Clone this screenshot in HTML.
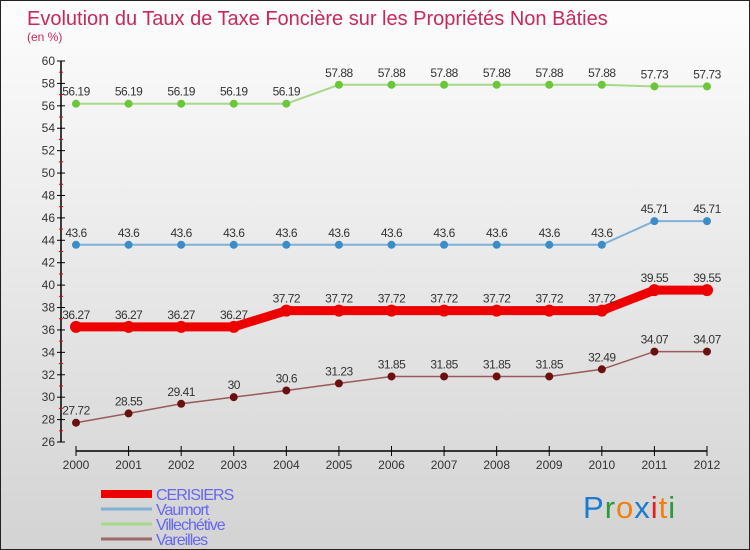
<!DOCTYPE html>
<html><head><meta charset="utf-8"><style>
body{margin:0;}
#wrap{width:750px;height:550px;position:relative;box-sizing:border-box;border:1px solid #222;background:linear-gradient(#fdfdfd,#d3d3d3);font-family:"Liberation Sans",sans-serif;overflow:hidden}
</style></head><body>
<div id="wrap">
<svg id="svg" width="750" height="550" style="position:absolute;left:0;top:0">
<text x="26" y="24" font-size="20" fill="#c8285a">Evolution du Taux de Taxe Foncière sur les Propriétés Non Bâties</text>
<text x="26" y="40" font-size="12" fill="#c8285a">(en %)</text>
</svg>
</div>
<script>
const years=["2000","2001","2002","2003","2004","2005","2006","2007","2008","2009","2010","2011","2012"];
const cerisiers=[36.27,36.27,36.27,36.27,37.72,37.72,37.72,37.72,37.72,37.72,37.72,39.55,39.55];
const vaumort=[43.6,43.6,43.6,43.6,43.6,43.6,43.6,43.6,43.6,43.6,43.6,45.71,45.71];
const villechetive=[56.19,56.19,56.19,56.19,56.19,57.88,57.88,57.88,57.88,57.88,57.88,57.73,57.73];
const vareilles=[27.72,28.55,29.41,30,30.6,31.23,31.85,31.85,31.85,31.85,32.49,34.07,34.07];
const yTicks=[26,28,30,32,34,36,38,40,42,44,46,48,50,52,54,56,58,60];
const seriesNames=["CERISIERS","Vaumort","Villechétive","Vareilles"];

const svg=document.getElementById('svg');const NS='http://www.w3.org/2000/svg';
function el(t,a,p){const e=document.createElementNS(NS,t);for(const k in a)e.setAttribute(k,a[k]);(p||svg).appendChild(e);return e;}
const x=i=>75+i*(706-75)/(years.length-1);
const y=v=>441-(v-26)*(441-60)/34;
let ax=el('line',{x1:60,y1:60,x2:60,y2:441,stroke:'#000','stroke-width':1.5});


let xa=el('line',{x1:75,y1:450,x2:706,y2:450,stroke:'#000','stroke-width':1.5});


yTicks.forEach((v,i)=>{
  el('line',{x1:56,x2:64,y1:y(v),y2:y(v),stroke:'#000'});
  if(i<yTicks.length-1)el('line',{x1:58,x2:62,y1:y(v+1),y2:y(v+1),stroke:'#e00'});
  const t=el('text',{x:54,y:y(v)+4,'font-size':12,'text-anchor':'end',fill:'#333'});t.textContent=v;
  
  
});
years.forEach((yr,i)=>{
  el('line',{x1:x(i),x2:x(i),y1:445,y2:455,stroke:'#000'});
  const t=el('text',{x:x(i),y:468,'font-size':12,'text-anchor':'middle',fill:'#333'});t.textContent=yr;
  
  
});
function series(data,color,dot,w,r,name){
  const pl=el('polyline',{points:data.map((v,i)=>x(i)+','+y(v)).join(' '),fill:'none',stroke:color,'stroke-width':w});
  
  
  data.forEach((v,i)=>{
    const c=el('circle',{cx:x(i),cy:y(v),r:r,fill:dot});
    
    
    const t=el('text',{x:x(i),y:y(v)-8,'font-size':12,'text-anchor':'middle',fill:'#333','letter-spacing':'-0.5'});t.textContent=v;
    
    
  });
}
series(villechetive,'#a6d98a','#6cc63a',2,4,'villechetive');
series(vaumort,'#7fb0d6','#3c8cc8',2,4,'vaumort');
series(cerisiers,'#ee0000','#ee0000',9,6,'cerisiers');
series(vareilles,'#9a5a5a','#6a1010',1.5,4,'vareilles');
const lc=['#ee0000','#7fb0d6','#a6d98a','#9a6a6a'];const lw=[8,3,3,3];
seriesNames.forEach((n,i)=>{
  const ly=493+i*15;
  const l=el('line',{x1:100,x2:151,y1:ly,y2:ly,stroke:lc[i],'stroke-width':lw[i]});
  
  
  const t=el('text',{x:155,y:ly+6,'font-size':16,fill:'#6666ee','letter-spacing':'-1'});t.textContent=n;
  
  
});
const cols=['#1a7ad0','#2a9a3a','#f08010','#1a7ad0','#e02020','#f08010','#2a9a3a'];
const g=el('text',{x:582,y:517,'font-size':31,'letter-spacing':'1'});


'Proxiti'.split('').forEach((c,i)=>{const s=el('tspan',{fill:cols[i]},g);s.textContent=c;});
</script>
</body></html>
